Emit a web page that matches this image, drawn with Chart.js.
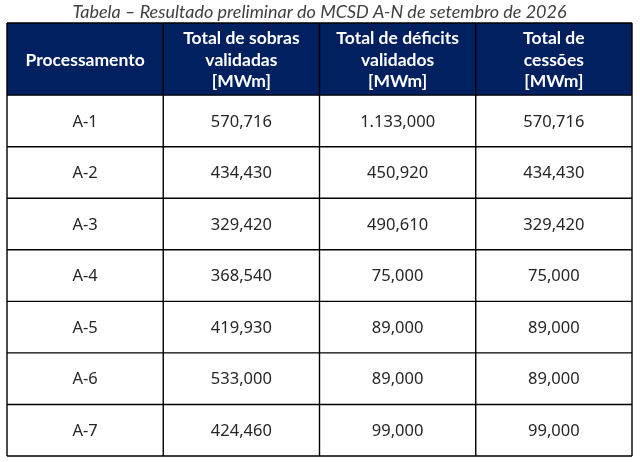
<!DOCTYPE html>
<html>
<head>
<meta charset="utf-8">
<script src="https://cdn.jsdelivr.net/npm/chart.js@4"></script>
<style>
html,body{margin:0;padding:0;background:#fff;}
#wrap{width:640px;height:462px;position:relative;}
</style>
</head>
<body>
<div id="wrap"><canvas id="c"></canvas></div>
<script>
const titleText = 'Tabela – Resultado preliminar do MCSD A-N de setembro de 2026';
const headers = [
  ['Processamento'],
  ['Total de sobras', 'validadas', '[MWm]'],
  ['Total de déficits', 'validados', '[MWm]'],
  ['Total de', 'cessões', '[MWm]']
];
const categories = ['A-1', 'A-2', 'A-3', 'A-4', 'A-5', 'A-6', 'A-7'];
const sobras   = [570.716, 434.430, 329.420, 368.540, 419.930, 533.000, 424.460];
const deficits = [1133.000, 450.920, 490.610, 75.000, 89.000, 89.000, 99.000];
const cessoes  = [570.716, 434.430, 329.420, 75.000, 89.000, 89.000, 99.000];

const HEADER_ROWS = 1.4; // header height in row units
const NROWS = categories.length;

function fmt(v) {
  const parts = v.toFixed(3).split('.');
  return parts[0].replace(/\B(?=(\d{3})+(?!\d))/g, '.') + ',' + parts[1];
}

function columnDataset(label, values, col) {
  return {
    label: label,
    data: values.map((v, i) => ({ x: col + 0.5, y: NROWS - i - 0.5 })),
    texts: values.map(v => typeof v === 'number' ? fmt(v) : v),
    pointRadius: 0,
    pointHoverRadius: 0
  };
}

const tablePlugin = {
  id: 'tablePlugin',
  afterDatasetsDraw(chart) {
    const ctx = chart.ctx;
    const xs = chart.scales.x, ys = chart.scales.y;
    const left = xs.getPixelForValue(0), right = xs.getPixelForValue(4);
    const top = ys.getPixelForValue(NROWS + HEADER_ROWS), bottom = ys.getPixelForValue(0);
    const hBottom = ys.getPixelForValue(NROWS);
    ctx.save();
    // header background
    ctx.fillStyle = '#002060';
    ctx.fillRect(left, top, right - left, hBottom - top);
    // header text
    ctx.fillStyle = '#ffffff';
    ctx.font = 'bold 17.5px Lato';
    ctx.textAlign = 'center';
    ctx.textBaseline = 'middle';
    const hc = ys.getPixelForValue(NROWS + HEADER_ROWS / 2);
    headers.forEach((lines, c) => {
      const cx = xs.getPixelForValue(c + 0.5);
      const lh = 21.5;
      lines.forEach((t, k) => {
        ctx.fillText(t, cx, hc + (k - (lines.length - 1) / 2) * lh + 1);
      });
    });
    // cell texts
    ctx.fillStyle = '#262626';
    ctx.font = '16.5px "Noto Sans"';
    chart.data.datasets.forEach((ds, di) => {
      const meta = chart.getDatasetMeta(di);
      meta.data.forEach((pt, i) => {
        ctx.fillText(ds.texts[i], pt.x, pt.y + 1);
      });
    });
    // grid lines
    ctx.strokeStyle = '#000000';
    ctx.lineWidth = 1.4;
    ctx.beginPath();
    for (let r = 0; r <= NROWS; r++) {
      const y = ys.getPixelForValue(r);
      ctx.moveTo(left, y); ctx.lineTo(right, y);
    }
    ctx.moveTo(left, top); ctx.lineTo(right, top);
    for (let c = 0; c <= 4; c++) {
      const x = xs.getPixelForValue(c);
      ctx.moveTo(x, top); ctx.lineTo(x, bottom);
    }
    ctx.stroke();
    ctx.restore();
  }
};

new Chart(document.getElementById('c'), {
  type: 'scatter',
  data: {
    datasets: [
      columnDataset('Processamento', categories, 0),
      columnDataset('Total de sobras validadas [MWm]', sobras, 1),
      columnDataset('Total de déficits validados [MWm]', deficits, 2),
      columnDataset('Total de cessões [MWm]', cessoes, 3)
    ]
  },
  options: {
    responsive: true,
    maintainAspectRatio: false,
    animation: false,
    layout: { padding: { left: 7, right: 8, top: 0, bottom: 6 } },
    scales: {
      x: { type: 'linear', min: 0, max: 4, display: false },
      y: { type: 'linear', min: 0, max: NROWS + HEADER_ROWS, display: false }
    },
    plugins: {
      legend: { display: false },
      tooltip: { enabled: false },
      title: {
        display: true,
        text: titleText,
        color: '#404040',
        font: { family: 'Lato', size: 18, style: 'italic', weight: 'normal', lineHeight: 1.2 },
        padding: { top: 1, bottom: 0.4 }
      }
    }
  },
  plugins: [tablePlugin]
});
</script>
</body>
</html>
